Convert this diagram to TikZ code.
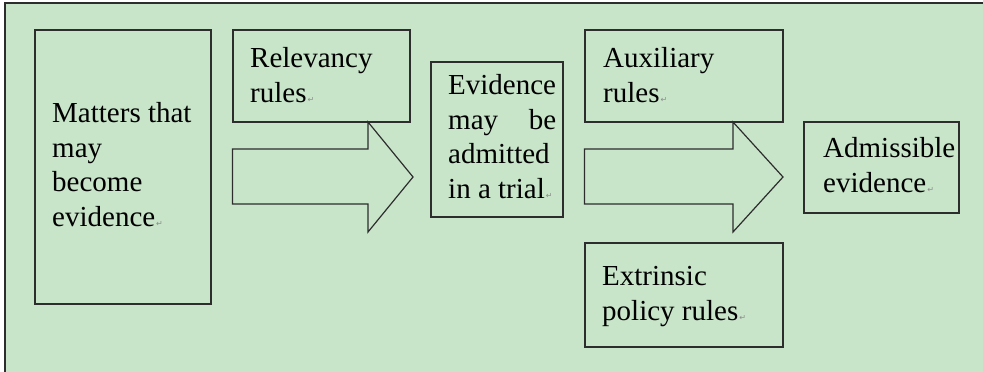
\documentclass[tikz,border=0pt]{standalone}
\usepackage{fontspec}
\setmainfont{Liberation Serif}
\newfontfamily\dvsans{DejaVu Sans}
\definecolor{bggreen}{RGB}{200,228,201}
\definecolor{edge}{RGB}{45,45,45}
\newcommand\retmark{{\dvsans\fontsize{8}{8}\selectfont\color{black!45}\kern1pt ↵}}
\begin{document}
\begin{tikzpicture}[x=1pt,y=-1pt,
  boxshape/.style={draw=edge,line width=1.2pt},
  txt/.style={anchor=base west,inner sep=0pt,align=left,font=\fontsize{29}{34.5}\selectfont},
  blockarrow/.style={draw=edge,line width=1.2pt,line join=miter}]
\useasboundingbox (0,0) rectangle (983,372);
\fill[white] (0,0) rectangle (983,372);
\fill[bggreen] (5,3) rectangle (983,372);
\draw[edge,line width=1.5pt] (5,372) -- (5,3) -- (983,3);
% boxes
\node[boxshape,minimum width=176pt,minimum height=274pt,inner sep=0pt] (matters) at (123,167) {};
\node[boxshape,minimum width=177pt,minimum height=92pt,inner sep=0pt] (relev) at (321.5,76) {};
\node[boxshape,minimum width=132pt,minimum height=155pt,inner sep=0pt] (evid) at (497,139.5) {};
\node[boxshape,minimum width=198pt,minimum height=92pt,inner sep=0pt] (aux) at (684,76) {};
\node[boxshape,minimum width=198pt,minimum height=104pt,inner sep=0pt] (extr) at (684,295) {};
\node[boxshape,minimum width=155pt,minimum height=91pt,inner sep=0pt] (adm) at (881.5,167.5) {};
% texts (anchored at the baseline of the last line)
\node[txt] (tmatters) at (52,226) {Matters that\\may\\become\\evidence\retmark};
\node[txt] (trelev) at (250,102) {Relevancy\\rules\retmark};
\node[txt] (tevid) at (448,198) {Evidence\\\makebox[108pt][s]{may\hfill be}\\admitted\\in a trial\retmark};
\node[txt] (taux) at (603,102) {Auxiliary\\rules\retmark};
\node[txt] (textr) at (602,320) {Extrinsic\\policy rules\retmark};
\node[txt] (tadm) at (823,192) {Admissible\\evidence\retmark};
% block arrows
\coordinate (a1tip) at (413,177);
\coordinate (a2tip) at (783,177);
\draw[blockarrow] (relev.south west |- 0,149) -- (368,149) -- (368,122) -- (a1tip) -- (368,232) -- (368,204) -- (relev.south west |- 0,204) -- cycle;
\draw[blockarrow] (aux.south west |- 0,149) -- (733,149) -- (733,122) -- (a2tip) -- (733,232) -- (733,204) -- (aux.south west |- 0,204) -- cycle;
\end{tikzpicture}
\end{document}
